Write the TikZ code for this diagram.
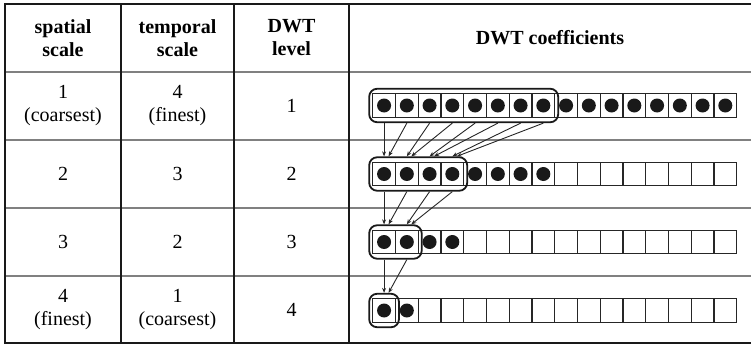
\documentclass[tikz,border=0pt]{standalone}
\usepackage{fontspec}
\setmainfont{Liberation Serif}
\usetikzlibrary{fit,arrows.meta}
\begin{document}
\begin{tikzpicture}[x=1pt,y=-1pt,
  cell/.style={draw=black!85,line width=1.1pt,minimum width=22.75pt,minimum height=23.5pt,inner sep=0pt,outer sep=0pt},
  dot/.style={circle,fill=black!90,minimum size=14pt,inner sep=0pt},
  grp/.style={draw=black!90,line width=1.8pt,rounded corners=8pt,inner xsep=3.5pt,inner ysep=5pt},
  link/.style={line width=0.9pt,draw=black!85,-{Stealth[length=5pt,width=4pt]}},
  txt/.style={align=center,font=\fontsize{20}{23}\selectfont,inner sep=0pt},
  hdr/.style={align=center,font=\fontsize{20}{23}\selectfont\bfseries,inner sep=0pt},
  hline/.style={draw=black!50,line width=1.3pt},
  vline/.style={draw=black!90,line width=1.2pt},
  border/.style={draw=black!90,line width=2pt}]
\useasboundingbox (0,0) rectangle (751,345);
% table rules
\foreach \yy in {72,140,208,276} \draw[hline] (5,\yy) -- (751,\yy);
\foreach \xx in {121,234,349} \draw[vline] (\xx,4) -- (\xx,343);
\draw[border] (751,4) -- (5,4) -- (5,343) -- (751,343);
% header
\node[hdr] (h1) at (63,38) {spatial\\scale};
\node[hdr] (h2) at (177.5,38) {temporal\\scale};
\node[hdr] (h3) at (291.5,38) {DWT\\level};
\node[hdr] (h4) at (550,38) {DWT coefficients};
% rows text
\node[txt] (s1) at (63,106) {1\\(coarsest)};
\node[txt] (t1) at (177.5,106) {4\\(finest)};
\node[txt] (l1) at (291.5,106) {1};
\node[txt] (s2) at (63,174) {2};
\node[txt] (t2) at (177.5,174) {3};
\node[txt] (l2) at (291.5,174) {2};
\node[txt] (s3) at (63,242) {3};
\node[txt] (t3) at (177.5,242) {2};
\node[txt] (l3) at (291.5,242) {3};
\node[txt] (s4) at (63,310) {4\\(finest)};
\node[txt] (t4) at (177.5,310) {1\\(coarsest)};
\node[txt] (l4) at (291.5,310) {4};
% cells
\foreach \r/\yy/\nd in {1/105.5/16,2/174/8,3/242/4,4/310.5/2}{
  \foreach \k in {1,...,16}{
    \node[cell] (c-\r-\k) at (361.325+22.75*\k,\yy) {};
  }
  \foreach \k in {1,...,\nd}{
    \node[dot] (d-\r-\k) at (c-\r-\k) {};
  }
}
% groups
\node[grp,fit=(c-1-1)(c-1-8)] (g-1) {};
\node[grp,fit=(c-2-1)(c-2-4)] (g-2) {};
\node[grp,fit=(c-3-1)(c-3-2)] (g-3) {};
\node[grp,fit=(c-4-1)] (g-4) {};
% arrows
\foreach \r/\n in {1/8,2/4,3/2}{
  \pgfmathtruncatemacro\nr{\r+1}
  \foreach \k in {1,...,\n}{
    \pgfmathtruncatemacro\j{(\k+1)/2}
    \pgfmathsetmacro\off{mod(\k+1,2)*4.5}
    \draw[link] (c-\r-\k.center |- g-\r.south) -- ([xshift=\off pt]c-\nr-\j.center |- g-\nr.north);
  }
}
\end{tikzpicture}
\end{document}
